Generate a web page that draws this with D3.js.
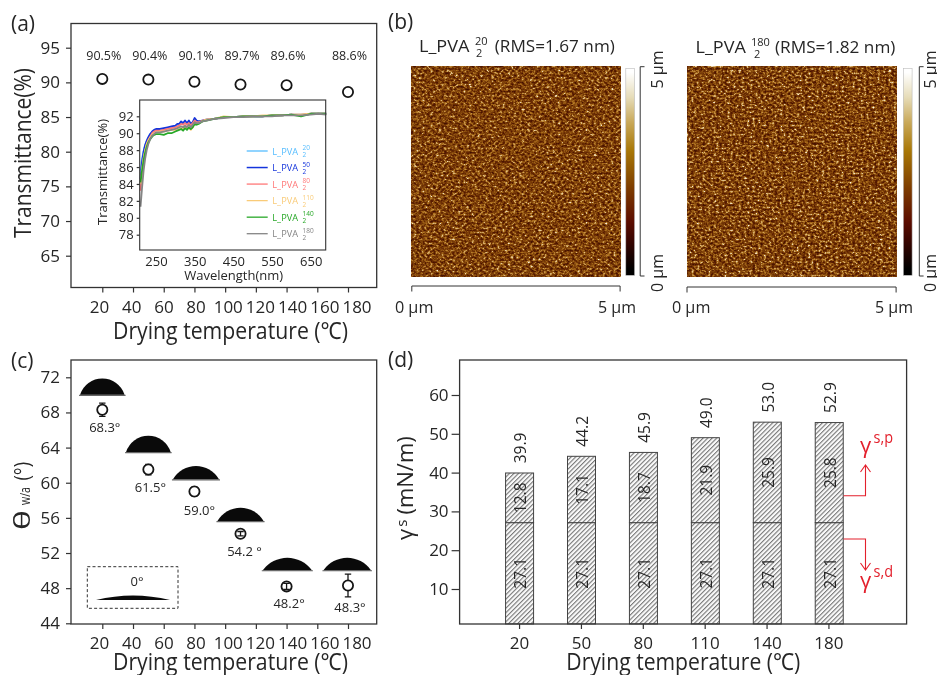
<!DOCTYPE html>
<html>
<head>
<meta charset="utf-8">
<script src="https://cdn.jsdelivr.net/npm/d3@7"></script>
<style>
html,body{margin:0;padding:0;background:#fff;overflow:hidden}
svg{display:block;filter:blur(0.35px)}
text{font-family:"Open Sans","Noto Sans",sans-serif;fill:#262626}
</style>
</head>
<body>
<svg id="chart" width="937" height="675" viewBox="0 0 937 675"></svg>
<script>
// ---------- data ----------
const temps = [20, 50, 80, 110, 140, 180];
const transmittance = [90.5, 90.4, 90.1, 89.7, 89.6, 88.6];
const transmittanceLabels = ["90.5%", "90.4%", "90.1%", "89.7%", "89.6%", "88.6%"];
const axisTemps = [20, 40, 60, 80, 100, 120, 140, 160, 180];
const transTicks = [65, 70, 75, 80, 85, 90, 95];

const wavelengths = [210,214,218,222,226,230,235,240,245,250,260,270,280,290,300,305,310,315,320,325,330,335,340,345,350,355,360,370,380,400,425,450,475,500,525,550,575,600,625,650,670,690];
const spec20  = [85.6,87.0,87.9,88.6,89.1,89.5,89.9,90.1,90.3,90.4,90.5,90.5,90.6,90.7,90.8,91.0,91.0,91.2,91.2,91.3,91.2,91.3,91.2,91.3,91.6,91.4,91.4,91.5,91.6,91.7,91.9,91.9,92.0,92.0,92.0,92.1,92.1,92.2,92.2,92.3,92.3,92.3];
const spec50  = [84.6,86.6,87.8,88.6,89.1,89.5,89.9,90.2,90.4,90.5,90.5,90.6,90.7,90.8,90.9,91.1,91.1,91.4,91.2,91.5,91.2,91.5,91.1,91.3,91.8,91.5,91.4,91.5,91.6,91.7,91.9,91.9,92.0,92.0,92.0,92.1,92.1,92.2,92.1,92.3,92.3,92.3];
const spec80  = [83.2,85.4,86.9,87.9,88.7,89.2,89.6,90.0,90.2,90.3,90.3,90.4,90.5,90.6,90.7,90.8,90.9,91.1,91.0,91.2,91.0,91.2,90.9,91.2,91.5,91.3,91.3,91.5,91.6,91.7,91.9,91.9,92.0,92.0,92.0,92.1,92.1,92.2,92.2,92.3,92.3,92.3];
const spec110 = [84.0,85.8,87.1,88.0,88.7,89.1,89.5,89.8,90.0,90.1,90.2,90.2,90.3,90.4,90.4,90.5,90.6,90.6,90.5,90.7,90.5,90.6,90.4,90.7,91.2,91.1,91.2,91.4,91.6,91.7,92.0,91.9,92.0,92.0,92.1,92.1,92.1,92.2,92.2,92.3,92.3,92.3];
const spec140 = [84.2,85.6,86.8,87.7,88.4,88.9,89.3,89.6,89.8,89.9,89.9,89.8,90.0,90.0,90.2,90.3,90.4,90.5,90.3,90.6,90.4,90.7,90.5,90.7,91.1,91.0,91.1,91.4,91.5,91.7,91.9,91.9,92.0,92.0,92.0,92.1,92.1,92.2,92.0,92.3,92.3,92.3];
const spec180 = [81.3,83.6,85.6,87.0,88.0,88.7,89.3,89.7,89.9,90.1,90.1,90.2,90.3,90.4,90.5,90.6,90.7,90.8,90.7,90.9,90.7,91.0,90.7,91.0,91.3,91.2,91.2,91.4,91.5,91.7,91.8,91.9,91.9,92.0,92.0,92.0,92.1,92.1,92.1,92.2,92.3,92.2];
const specNames = ["20", "50", "80", "110", "140", "180"];
const specColors = ["#56bdff", "#1434dc", "#ff7878", "#f9cb78", "#27a827", "#858585"];
const insetYTicks = [78, 80, 82, 84, 86, 88, 90, 92];
const insetXTicks = [250, 350, 450, 550, 650];

const afmTitles = ["(RMS=1.67 nm)", "(RMS=1.82 nm)"];
const afmSup = ["20", "180"];

const contactAngle = [68.3, 61.5, 59.0, 54.2, 48.2, 48.3];
const contactError = [0.75, 0.6, 0.5, 0.25, 0.35, 1.3];
const errorInsideMarker = [false, false, false, true, true, false];
const contactLabels = ["68.3°", "61.5°", "59.0°", "54.2 °", "48.2°", "48.3°"];
const angleTicks = [44, 48, 52, 56, 60, 64, 68, 72];
const dropTemp = [20, 50, 81, 110, 140.5, 179.5];
const dropBase = [70, 63.5, 60.4, 55.65, 50.05, 50.05];
const dropSpan = [29, 29, 30, 30, 32, 31];
const dropRise = [1.85, 1.85, 1.5, 1.5, 1.4, 1.4];

const dispersive = [27.1, 27.1, 27.1, 27.1, 27.1, 27.1];
const polarLabels = ["12.8", "17.1", "18.7", "21.9", "25.9", "25.8"];
const barTops = [39.9, 44.2, 45.2, 49.0, 53.0, 52.9];
const totalLabels = ["39.9", "44.2", "45.9", "49.0", "53.0", "52.9"];
const energyTicks = [10, 20, 30, 40, 50, 60];
const energyFloor = 1;

// ---------- helpers ----------
const svg = d3.select("#chart");
const defs = svg.append("defs");
const INK = "#333";
const TICK_FONT = 17;

function txt(g, x, y, s, size, o = {}) {
  const t = g.append("text").attr("x", x).attr("y", y).attr("font-size", size)
    .attr("text-anchor", o.anchor || "start").text(s);
  if (o.fit) t.attr("textLength", o.fit).attr("lengthAdjust", "spacingAndGlyphs");
  if (o.fill) t.style("fill", o.fill);
  if (o.rot) t.attr("transform", `rotate(${o.rot} ${x} ${y})`);
  return t;
}
function frame(x0, y0, x1, y1, w = 1.3) {
  svg.append("rect").attr("x", x0).attr("y", y0).attr("width", x1 - x0).attr("height", y1 - y0)
    .attr("fill", "none").attr("stroke", INK).attr("stroke-width", w);
}
function styleAxis(g, size, w = 1.2) {
  g.select(".domain").remove();
  g.selectAll("line").attr("stroke", INK).attr("stroke-width", w);
  g.selectAll("text").attr("font-size", size).attr("font-family", null);
}
function leftAxis(scale, ticks, x, size, len, pad) {
  const g = svg.append("g").attr("transform", `translate(${x},0)`)
    .call(d3.axisLeft(scale).tickValues(ticks).tickSize(len).tickPadding(pad).tickFormat(d3.format("d")));
  styleAxis(g, size);
  return g;
}
function tempAxis(scale, labelScale, ticks, y) {
  const g = svg.append("g").attr("transform", `translate(0,${y})`)
    .call(d3.axisBottom(scale).tickValues(ticks).tickSize(5).tickPadding(8).tickFormat(d3.format("d")));
  styleAxis(g, TICK_FONT);
  g.selectAll(".tick text").attr("x", d => labelScale(d) - scale(d));
  return g;
}
function dropPath(x0, x1, yBase, yTop) {
  const w = x1 - x0, h = yBase - yTop, R = (w * w / 4 + h * h) / (2 * h);
  return `M${x0},${yBase}A${R},${R} 0 0 1 ${x1},${yBase}Z`;
}
function circles(cx, cy) {
  svg.append("circle").attr("cx", cx).attr("cy", cy).attr("r", 5.1).attr("fill", "#fff")
    .attr("stroke", "#161616").attr("stroke-width", 1.8);
}

// panel letters
txt(svg, 11, 31, "(a)", 21);
txt(svg, 388, 29, "(b)", 21);
txt(svg, 11, 368, "(c)", 21);
txt(svg, 388, 367, "(d)", 21);

// ---------- (a) ----------
const xA = d3.scaleLinear().domain([20, 180]).range([102.3, 348]);
const xLabel = d3.scaleLinear().domain([20, 180]).range([99, 356.5]);
const yA = d3.scaleLinear().domain([65, 95]).range([255.7, 47.7]);
frame(71, 23.5, 376.7, 287.5);
leftAxis(yA, transTicks, 71, TICK_FONT, 5, 6);
tempAxis(xA, xLabel, axisTemps, 287.5);
txt(svg, 31, 153, "Transmittance(%)", 23.5, {anchor: "middle", rot: -90, fit: 170});
txt(svg, 230.5, 339, "Drying temperature (℃)", 23.5, {anchor: "middle", fit: 235});
temps.forEach((t, i) => {
  circles(xA(t), yA(transmittance[i]));
  txt(svg, xA(t) + 1.5, 60, transmittanceLabels[i], 12.5, {anchor: "middle"});
});

// inset
const xI = d3.scaleLinear().domain([250, 650]).range([156, 310.7]);
const yI = d3.scaleLinear().domain([78, 92]).range([234.7, 116.3]);
svg.append("rect").attr("x", 139.7).attr("y", 100).attr("width", 186).attr("height", 150).attr("fill", "#fff");
[spec20, spec50, spec80, spec110, spec140, spec180].forEach((s, i) => {
  svg.append("path").attr("fill", "none").attr("stroke", specColors[i])
    .attr("stroke-width", 1.8).attr("stroke-linejoin", "round")
    .attr("d", d3.line().x((d, k) => xI(wavelengths[k])).y(d => yI(d))(s));
});
frame(139.7, 100, 325.7, 250, 1.1);
leftAxis(yI, insetYTicks, 139.7, 13, 3, 3);
const insetX = svg.append("g").attr("transform", "translate(0,250)")
  .call(d3.axisBottom(xI).tickValues(insetXTicks).tickSize(0).tickPadding(7).tickFormat(d3.format("d")));
styleAxis(insetX, 13);
txt(svg, 233.7, 279.5, "Wavelength(nm)", 13.5, {anchor: "middle", fit: 99});
txt(svg, 107, 172, "Transmittance(%)", 12.5, {anchor: "middle", rot: -90, fit: 106});
const legendY = d3.scalePoint().domain(specNames).range([151, 233.7]);
specNames.forEach((n, i) => {
  const y = legendY(n), c = specColors[i];
  svg.append("line").attr("x1", 246.7).attr("x2", 267.7).attr("y1", y).attr("y2", y)
    .attr("stroke", c).attr("stroke-width", i === 1 ? 1.5 : 1.3);
  txt(svg, 272.3, y + 3.5, "L_PVA", 9.5, {fill: c, fit: 25.7});
  txt(svg, 302.5, y - 1, n, 6.5, {fill: c});
  txt(svg, 302.5, y + 6, "2", 6.5, {fill: c});
});

// ---------- (b) ----------
const afmColors = ["#000000", "#3a0500", "#5c0d00", "#7d3c00", "#a87706", "#c9a95a", "#e6dcb8", "#ffffff"];
const stopAt = [0.03, 0.17, 0.26, 0.42, 0.6, 0.74, 0.86, 0.98];
const grad = defs.append("linearGradient").attr("id", "afmScale").attr("x1", 0).attr("x2", 0).attr("y1", 1).attr("y2", 0);
afmColors.forEach((c, i) => grad.append("stop").attr("offset", stopAt[i]).attr("stop-color", c));

function afmFilter(id, seed) {
  const f = defs.append("filter").attr("id", id).attr("x", 0).attr("y", 0).attr("width", 1).attr("height", 1)
    .attr("color-interpolation-filters", "sRGB");
  f.append("feTurbulence").attr("type", "fractalNoise").attr("baseFrequency", "0.36 0.44")
    .attr("numOctaves", 3).attr("seed", seed);
  f.append("feColorMatrix").attr("type", "matrix")
    .attr("values", "1.15 0 0 0 -0.12  1.15 0 0 0 -0.12  1.15 0 0 0 -0.12  0 0 0 0 1");
  const ct = f.append("feComponentTransfer");
  ct.append("feFuncR").attr("type", "table").attr("tableValues", ".22 .27 .35 .43 .53 .68 .84 .96 1");
  ct.append("feFuncG").attr("type", "table").attr("tableValues", ".05 .07 .11 .19 .29 .44 .68 .92 1");
  ct.append("feFuncB").attr("type", "table").attr("tableValues", "0 0 0 .02 .05 .12 .42 .85 1");
}
afmFilter("afm1", 7);
afmFilter("afm2", 23);

const afmPanels = [
  {x0: 411.8, x1: 620.1, cb: 625.8, br: 640.2, lab: 663, tx: 419, tw: 50.5, sx: 475, rx: 494.8, rw: 120, ty: 51.7,
   l0: 394.9, l5: 598, bar: 286, f: "afm1"},
  {x0: 687, x1: 896.1, cb: 903.3, br: 919.3, lab: 935.5, tx: 695.5, tw: 50.3, sx: 751, rx: 775, rw: 120.4, ty: 52.5,
   l0: 671.9, l5: 875, bar: 287, f: "afm2"}
];
afmPanels.forEach((p, i) => {
  svg.append("rect").attr("x", p.x0).attr("y", 66.7).attr("width", p.x1 - p.x0).attr("height", 210).attr("filter", `url(#${p.f})`);
  svg.append("rect").attr("x", p.cb).attr("y", 68.3).attr("width", 8.8).attr("height", 207)
    .attr("fill", "url(#afmScale)").attr("stroke", "#bbb").attr("stroke-width", 0.6);
  svg.append("path").attr("fill", "none").attr("stroke", INK).attr("stroke-width", 1)
    .attr("d", `M${p.br + 4.3},66.7H${p.br}V276H${p.br + 4.3}`);
  txt(svg, p.lab, 88.5, "5 µm", 16, {rot: -90, fit: 38});
  txt(svg, p.lab, 292, "0 µm", 16, {rot: -90, fit: 38});
  svg.append("path").attr("fill", "none").attr("stroke", INK).attr("stroke-width", 1)
    .attr("d", `M${p.x0},${p.bar + 5.5}V${p.bar}H${p.x1}V${p.bar + 5.5}`);
  txt(svg, p.l0, 313, "0 µm", 16, {fit: 38.5});
  txt(svg, p.l5, 313, "5 µm", 16, {fit: 38});
  txt(svg, p.tx, p.ty, "L_PVA", 17, {fit: p.tw});
  txt(svg, p.sx, p.ty - 7, afmSup[i], 11);
  txt(svg, p.sx + (i ? 3 : 1), p.ty + 5, "2", 11);
  txt(svg, p.rx, p.ty, afmTitles[i], 17, {fit: p.rw});
});

// ---------- (c) ----------
const xC = d3.scaleLinear().domain([20, 180]).range([102.3, 348]);
const yC = d3.scaleLinear().domain([44, 72]).range([623.3, 377.3]);
frame(71, 360, 376.7, 624);
leftAxis(yC, angleTicks, 71, TICK_FONT, 5, 6);
tempAxis(xC, xLabel, axisTemps, 624);
const labelDX = [2.5, 2, 5, 4, 2.5, 2];
const labelDY = [18, 18.5, 19.5, 18.5, 17.5, 22.5];
dropTemp.forEach((t, i) => {
  const x0 = xC(t - dropSpan[i] / 2), x1 = xC(t + dropSpan[i] / 2), yb = yC(dropBase[i]), yt = yC(dropBase[i] + dropRise[i]);
  svg.append("line").attr("x1", x0 - 1).attr("x2", x1 + 1).attr("y1", yb + 0.6).attr("y2", yb + 0.6)
    .attr("stroke", "#666").attr("stroke-width", 1.2);
  svg.append("path").attr("d", dropPath(x0, x1, yb, yt)).attr("fill", "#0a0a0a");
});
temps.forEach((t, i) => {
  const x = xC(t), y = yC(contactAngle[i]), hi = yC(contactAngle[i] + contactError[i]), lo = yC(contactAngle[i] - contactError[i]);
  const bar = () => svg.append("path").attr("fill", "none").attr("stroke", "#161616").attr("stroke-width", 1.3)
    .attr("d", `M${x - 3.2},${hi}H${x + 3.2}M${x},${hi}V${lo}M${x - 3.2},${lo}H${x + 3.2}`);
  if (!errorInsideMarker[i]) bar();
  circles(x, y);
  if (errorInsideMarker[i]) bar();
  txt(svg, x + labelDX[i], y + labelDY[i] + 4, contactLabels[i], 13, {anchor: "middle"});
});
svg.append("rect").attr("x", 87.3).attr("y", 566.7).attr("width", 90.7).attr("height", 41.6)
  .attr("fill", "none").attr("stroke", "#333").attr("stroke-width", 1).attr("stroke-dasharray", "3 2.2");
txt(svg, 137, 585.5, "0°", 13, {anchor: "middle"});
svg.append("path").attr("d", dropPath(96, 170, 600, 595.5)).attr("fill", "#0a0a0a");
txt(svg, 230.5, 669.5, "Drying temperature (℃)", 23.5, {anchor: "middle", fit: 235});
svg.append("text").attr("transform", "translate(30,530) rotate(-90)").attr("font-size", 22)
  .attr("textLength", 20).attr("lengthAdjust", "spacingAndGlyphs").text("θ");
svg.append("text").attr("transform", "translate(30,505) rotate(-90)").attr("font-size", 15)
  .attr("textLength", 18).attr("lengthAdjust", "spacingAndGlyphs").text("w/a");
svg.append("text").attr("transform", "translate(30,480.5) rotate(-90)").attr("font-size", 22)
  .attr("textLength", 18.5).attr("lengthAdjust", "spacingAndGlyphs").text("(°)");

// ---------- (d) ----------
const xD = d3.scaleBand().domain(temps).range([488.6, 860.2]).paddingInner(0.55).paddingOuter(0.275);
const yD = d3.scaleLinear().domain([10, 60]).range([589, 395]);
const hatch = defs.append("pattern").attr("id", "hatch").attr("patternUnits", "userSpaceOnUse")
  .attr("width", 3.2).attr("height", 3.2).attr("patternTransform", "rotate(45)");
hatch.append("rect").attr("width", 3.2).attr("height", 3.2).attr("fill", "#fafafa");
hatch.append("rect").attr("width", 1.1).attr("height", 3.2).attr("fill", "#777");
const bw = 28;
temps.forEach((t, i) => {
  const cx = xD(t) + xD.bandwidth() / 2, x = cx - bw / 2;
  const yMid = yD(dispersive[i]), yTop = yD(barTops[i]), yBase = yD(energyFloor);
  [[yMid, yBase - yMid], [yTop, yMid - yTop]].forEach(([y, h]) => {
    svg.append("rect").attr("x", x).attr("y", y).attr("width", bw).attr("height", h)
      .attr("fill", "url(#hatch)").attr("stroke", "#444").attr("stroke-width", 1);
  });
  const lx = cx + 6.3;
  txt(svg, lx, yTop - 25, totalLabels[i], 15.5, {anchor: "middle", rot: -90});
  txt(svg, lx, (yTop + yMid) / 2, polarLabels[i], 15.5, {anchor: "middle", rot: -90});
  txt(svg, lx, (yMid + yBase) / 2, dispersive[i].toFixed(1), 15.5, {anchor: "middle", rot: -90});
});
frame(459.6, 360, 906.6, 624);
leftAxis(yD, energyTicks, 459.6, TICK_FONT, 8, 3);
const axD = svg.append("g").attr("transform", "translate(0,624)")
  .call(d3.axisBottom(d3.scalePoint().domain(temps).range([xD(20) + xD.bandwidth() / 2 - 0.5, xD(180) + xD.bandwidth() / 2 - 0.8]))
    .tickSize(5).tickPadding(8));
styleAxis(axD, TICK_FONT);
txt(svg, 683.3, 669.5, "Drying temperature (℃)", 23.5, {anchor: "middle", fit: 234});
const yT = svg.append("text").attr("transform", "translate(413,540) rotate(-90)").attr("font-size", 22);
yT.append("tspan").text("γ");
yT.append("tspan").attr("font-size", 15).attr("dx", 2).attr("dy", -6).text("s");
yT.append("tspan").attr("dx", 5).attr("dy", 6).text("(mN/m)");

const RED = "#e3202c";
function redArrow(y0, y1, dir) {
  svg.append("path").attr("fill", "none").attr("stroke", RED).attr("stroke-width", 1.1)
    .attr("d", `M843.6,${y0}H865.5V${y1}M860.5,${y1 - dir * 7}L865.5,${y1}L870.5,${y1 - dir * 7}`);
}
redArrow(495.7, 465, -1);
redArrow(539, 570, 1);
txt(svg, 865.5, 452.5, "γ", 22, {anchor: "middle", fill: RED});
txt(svg, 873.5, 442.5, "s,p", 16, {fill: RED, fit: 19.5});
txt(svg, 865.5, 588, "γ", 22, {anchor: "middle", fill: RED});
txt(svg, 873.5, 576.5, "s,d", 16, {fill: RED, fit: 19.5});
</script>
</body>
</html>
